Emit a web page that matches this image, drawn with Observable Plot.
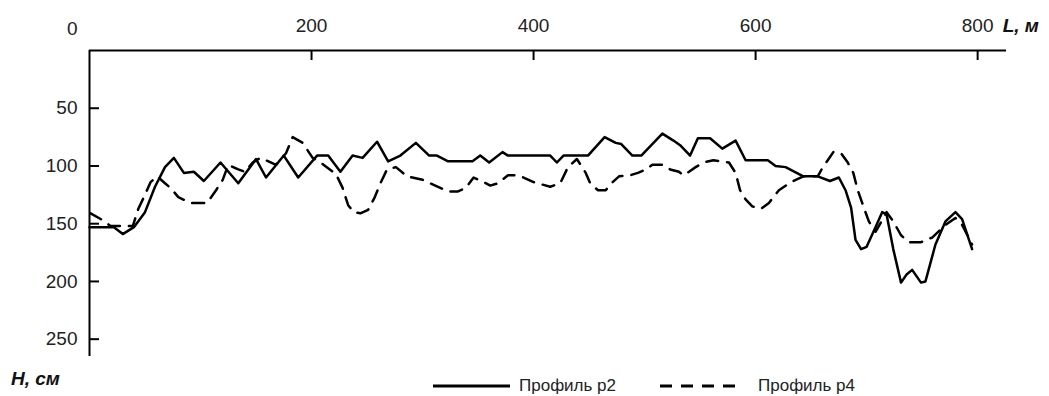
<!DOCTYPE html>
<html>
<head>
<meta charset="utf-8">
<script src="https://cdn.jsdelivr.net/npm/d3@7"></script>
<script src="https://cdn.jsdelivr.net/npm/@observablehq/plot@0.6"></script>
<style>
  html, body { margin: 0; padding: 0; background: #fff; }
  body { width: 1049px; height: 396px; overflow: hidden; font-family: "Liberation Sans", Arial, sans-serif; }
  #legend { position: relative; width: 1049px; height: 28px; color: #222; }
  #legend .ylab { position: absolute; left: 11px; top: 0px; font-size: 19px; font-weight: bold; font-style: italic; line-height: 22px; color: #111; }
  #legend .item { position: absolute; top: 8px; height: 20px; display: flex; align-items: center; font-size: 17px; }
  #legend svg { margin-right: 8px; }
</style>
</head>
<body>
<div id="chart"></div>
<div id="legend"></div>
<script>
// Profile p2 (solid): distance L, m and depth H, cm
const p2L = [0,22,30,40,50,59,68,76,85,94,103,118,134,150,159,175,188,205,215,226,237,246,259,269,280,294,306,313,323,345,352,360,372,377,415,421,427,449,464,474,479,489,497,516,526,532,541,548,559,570,582,591,611,618,627,643,656,667,675,681,686,690,695,700,708,714,718,724,731,736,741,749,753,762,771,780,786,795];
const p2H = [153,153,159,153,140,118,101,93,106,105,113,97,115,94,110,91,110,91,91,105,91,93,79,96,91,80,91,91,96,96,91,97,88,91,91,97,91,91,75,80,81,91,91,72,78,82,91,76,76,85,78,95,95,100,101,109,109,113,110,121,136,164,172,170,153,140,142,172,201,194,190,201,200,168,148,140,146,172];

// Profile p4 (dashed)
const p4L = [1,12,19,39,44,49,55,61,68,73,80,91,106,114,120,125,134,140,147,154,168,177,183,192,201,208,222,228,233,238,244,251,257,262,268,276,286,300,309,323,332,339,346,355,361,368,377,384,391,400,415,424,431,439,447,451,458,465,470,477,487,494,501,507,516,523,531,535,540,546,553,562,576,582,586,591,597,605,612,621,632,643,656,660,665,670,677,683,688,692,696,702,708,714,718,724,731,738,749,759,771,780,786,795];
const p4H = [141,147,152,152,137,127,114,109,115,119,127,132,132,121,112,99,103,105,97,93,99,89,75,80,93,97,107,119,134,140,141,138,127,115,103,101,109,112,116,122,122,119,110,114,117,115,108,108,110,114,118,115,101,94,106,115,121,121,115,109,108,106,103,99,99,103,105,108,105,101,97,95,97,106,121,129,135,137,132,121,114,109,109,102,95,88,89,97,106,121,132,148,157,147,140,148,160,166,166,162,151,145,151,168];

const xTicks = [200, 400, 600, 800];
const yTicks = [50, 100, 150, 200, 250];
const cornerLabel = ["0"];
const xTitle = "L, м";
const yTitle = "H, см";
const seriesNames = ["Профиль р2", "Профиль р4"];

const p2 = p2L.map((L, i) => ({L, H: p2H[i]}));
const p4 = p4L.map((L, i) => ({L, H: p4H[i]}));

const textColor = "#222";
const font = "Liberation Sans, Arial, sans-serif";

const chart = Plot.plot({
  width: 1049,
  height: 368,
  marginLeft: 89,
  marginRight: 43,
  marginTop: 50,
  marginBottom: 12,
  style: {background: "#fff", overflow: "visible", fontFamily: font},
  x: {domain: [0, 826], axis: null},
  y: {domain: [0, 265], reverse: true, axis: null},
  marks: [
    // axis lines
    Plot.ruleY([0], {stroke: "#000", strokeWidth: 2}),
    Plot.ruleX([0], {stroke: "#000", strokeWidth: 2}),
    // inward ticks
    Plot.ruleX(xTicks, {x: d => d, y1: 0, y2: 0, insetBottom: -10, stroke: "#000", strokeWidth: 2}),
    Plot.ruleY(yTicks, {y: d => d, x1: 0, x2: 0, insetRight: -10, stroke: "#000", strokeWidth: 2}),
    // tick labels
    Plot.text(xTicks, {x: d => d, y: 0, text: d => String(d), dy: -25, fontSize: 19, fill: textColor, textAnchor: "middle"}),
    Plot.text(yTicks, {x: 0, y: d => d, text: d => String(d), dx: -12, fontSize: 19, fill: textColor, textAnchor: "end"}),
    Plot.text(cornerLabel, {x: 0, y: 0, text: d => d, dx: -12, dy: -22, fontSize: 19, fill: textColor, textAnchor: "end"}),
    Plot.text([xTitle], {x: 800, y: 0, text: d => d, dx: 25, dy: -25, fontSize: 19, fontWeight: "bold", fontStyle: "italic", fill: "#111", textAnchor: "start"}),
    // series
    Plot.line(p4, {x: "L", y: "H", stroke: "#000", strokeWidth: 2.5, strokeDasharray: "12,9", strokeLinejoin: "round"}),
    Plot.line(p2, {x: "L", y: "H", stroke: "#000", strokeWidth: 2.5, strokeLinejoin: "round"})
  ]
});
document.getElementById("chart").appendChild(chart);

// legend and y title below the chart
const legend = document.getElementById("legend");
const yl = document.createElement("div");
yl.className = "ylab";
yl.textContent = yTitle;
legend.appendChild(yl);
const items = [
  {name: seriesNames[0], left: 433, dash: null},
  {name: seriesNames[1], left: 660, dash: "12,9"}
];
items.forEach(it => {
  const d = document.createElement("div");
  d.className = "item";
  d.style.left = it.left + "px";
  const ns = "http://www.w3.org/2000/svg";
  const s = document.createElementNS(ns, "svg");
  s.setAttribute("width", it.dash ? 90 : 78);
  s.setAttribute("height", 6);
  const ln = document.createElementNS(ns, "line");
  ln.setAttribute("x1", 0); ln.setAttribute("x2", it.dash ? 84 : 77);
  ln.setAttribute("y1", 3); ln.setAttribute("y2", 3);
  ln.setAttribute("stroke", "#000"); ln.setAttribute("stroke-width", 3);
  if (it.dash) ln.setAttribute("stroke-dasharray", it.dash);
  s.appendChild(ln);
  d.appendChild(s);
  const t = document.createElement("span");
  t.textContent = it.name;
  d.appendChild(t);
  legend.appendChild(d);
});
</script>
</body>
</html>
